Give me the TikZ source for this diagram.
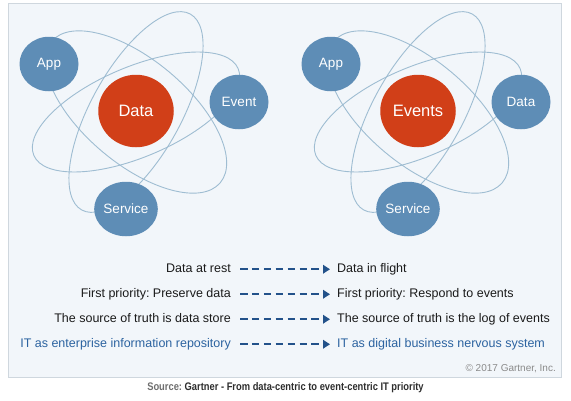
\documentclass[tikz,border=0pt]{standalone}
\usepackage{fontspec}
\setmainfont{Liberation Sans}
\usetikzlibrary{shapes.geometric,arrows.meta}
\frenchspacing
\definecolor{panelbg}{HTML}{F2F6FA}
\definecolor{panelline}{HTML}{CFD7DE}
\definecolor{orbitc}{HTML}{9FBDD2}
\definecolor{bluenode}{HTML}{5E8DB6}
\definecolor{rednode}{HTML}{D13F18}
\definecolor{arrowc}{HTML}{23528A}
\definecolor{txtdark}{HTML}{1A1A1A}
\definecolor{txtblue}{HTML}{2C63A0}
\definecolor{copyc}{HTML}{8A8A8A}
\definecolor{srcgray}{HTML}{6E6E6E}
\definecolor{srcdark}{HTML}{2E2E2E}
\begin{document}
\frenchspacing
\begin{tikzpicture}[x=1pt,y=-1pt,
  orbit/.style={draw=orbitc, line width=0.9pt},
  bnode/.style={ellipse, fill=bluenode, inner sep=0pt, minimum width=59pt, minimum height=54.5pt,
    text=white, font=\fontsize{13.5}{16}\selectfont},
  rnode/.style={ellipse, fill=rednode, inner sep=0pt, minimum width=75.5pt, minimum height=72.5pt,
    text=white, font=\fontsize{16.5}{19}\selectfont},
  rowtxt/.style={inner sep=0pt, text height=9pt, text depth=2.5pt, font=\fontsize{12.5}{15}\selectfont, text=txtdark},
  lefttxt/.style={rowtxt, anchor=east},
  righttxt/.style={rowtxt, anchor=west},
  arr/.style={draw=arrowc, line width=1.8pt, dash pattern=on 7.5pt off 4.4pt,
    -{Triangle[length=7pt,width=8.5pt]}, shorten <=9pt, shorten >=7pt}
]
\useasboundingbox (0,0) rectangle (571,400);
\fill[white] (0,0) rectangle (571,400);
\draw[draw=panelline, fill=panelbg, line width=0.8pt] (8,3) rectangle (561.5,377);

% left atom
\coordinate (c1) at (136,112);
\draw[orbit, rotate around={-40:(c1)}] (c1) ellipse [x radius=110, y radius=52];
\draw[orbit, rotate around={61:(c1)}] (c1) ellipse [x radius=112, y radius=45];
\draw[orbit, rotate around={23:(c1)}] (c1) ellipse [x radius=111, y radius=45];
\node[bnode] (app1) at (49,64) {App};
\node[rnode] (data1) at (136,111) {Data};
\node[bnode] (event1) at (239,102) {Event};
\node[bnode] (svc1) at (126,209) {Service};

% right atom
\coordinate (c2) at (418,112);
\draw[orbit, rotate around={-40:(c2)}] (c2) ellipse [x radius=110, y radius=52];
\draw[orbit, rotate around={61:(c2)}] (c2) ellipse [x radius=112, y radius=45];
\draw[orbit, rotate around={23:(c2)}] (c2) ellipse [x radius=111, y radius=45];
\node[bnode] (app2) at (331,64) {App};
\node[rnode] (ev2) at (418,111) {Events};
\node[bnode] (data2) at (521,102) {Data};
\node[bnode] (svc2) at (408,209) {Service};

% comparison rows
\node[lefttxt] (l1) at (231,269.25) {Data at rest};
\node[righttxt] (r1) at (337,269.25) {Data in flight};
\node[lefttxt] (l2) at (231,294.25) {First priority: Preserve data};
\node[righttxt] (r2) at (337,294.25) {First priority: Respond to events};
\node[lefttxt] (l3) at (231,319.25) {The source of truth is data store};
\node[righttxt] (r3) at (337,319.25) {The source of truth is the log of events};
\node[lefttxt, text=txtblue] (l4) at (231,344.25) {IT as enterprise information repository};
\node[righttxt, text=txtblue] (r4) at (337,344.25) {IT as digital business nervous system};
\draw[arr] (l1) -- (r1);
\draw[arr] (l2) -- (r2);
\draw[arr] (l3) -- (r3);
\draw[arr] (l4) -- (r4);

\node[anchor=base east, inner sep=0pt, text=copyc, font=\fontsize{10}{12}\selectfont] (copy) at (556,371) {© 2017 Gartner, Inc.};
\node[inner sep=0pt, font=\bfseries\fontsize{11}{13}\selectfont] (src) at (285.5,388)
  {\scalebox{0.85}[1]{\textcolor{srcgray}{Source:} \textcolor{srcdark}{Gartner - From data-centric to event-centric IT priority}}};
\end{tikzpicture}
\end{document}
